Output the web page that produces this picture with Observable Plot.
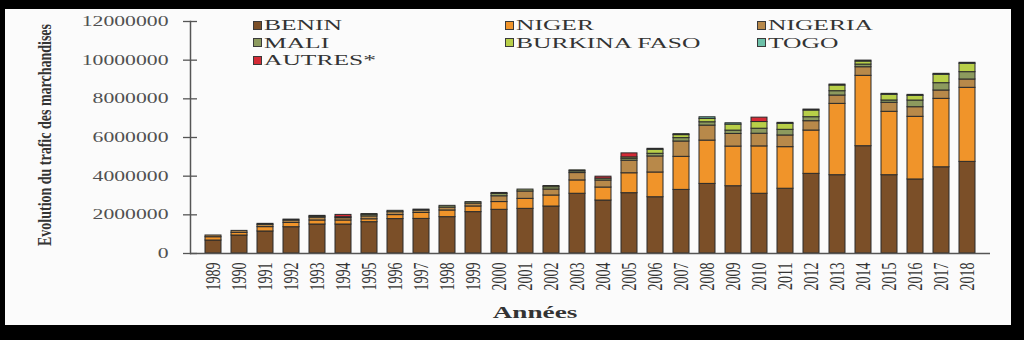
<!DOCTYPE html>
<html><head><meta charset="utf-8">
<script src="https://cdn.jsdelivr.net/npm/d3@7"></script>
<script src="https://cdn.jsdelivr.net/npm/@observablehq/plot@0.6"></script>
<style>
html,body{margin:0;padding:0;background:#000;width:1024px;height:340px;overflow:hidden}
#frame{position:absolute;left:5px;top:9px;width:1006px;height:316px;background:#fbfbfb;font-family:"Liberation Serif",serif;overflow:hidden}
#frame svg{position:absolute;left:0;top:0}
.leg{position:absolute;display:flex;align-items:center;height:16px;white-space:nowrap}
.sw{display:inline-block;width:7px;height:7px;border:1px solid #3a3a3a;margin-right:2px}
.lt{display:inline-block;font-size:15px;color:#333;transform:scaleX(1.7);transform-origin:left center;line-height:16px}
</style></head>
<body><div id="frame"></div>
<script>
const years = ["1989","1990","1991","1992","1993","1994","1995","1996","1997","1998","1999","2000","2001","2002","2003","2004","2005","2006","2007","2008","2009","2010","2011","2012","2013","2014","2015","2016","2017","2018"];
const countries = ["BENIN","NIGER","NIGERIA","MALI","BURKINA FASO","TOGO","AUTRES*"];
const colors = ["#7b4f28","#f0942a","#b8894a","#8c9a5e","#b8cf48","#6cc0a8","#d42a35"];
const benin   = [672000,930000,1140000,1360000,1500000,1500000,1620000,1780000,1790000,1880000,2140000,2260000,2310000,2430000,3090000,2740000,3120000,2910000,3290000,3600000,3480000,3090000,3350000,4120000,4050000,5550000,4050000,3830000,4460000,4740000];
const niger   = [170000,140000,224000,224000,207000,207000,150000,207000,310000,345000,293000,400000,517000,570000,690000,672000,1030000,1280000,1710000,2240000,2050000,2450000,2150000,2240000,3690000,3640000,3280000,3240000,3540000,3830000];
const nigeria = [90000,100000,120000,120000,150000,120000,150000,150000,120000,150000,150000,300000,380000,310000,380000,362000,650000,830000,793000,776000,655000,655000,605000,483000,431000,445000,465000,497000,431000,431000];
const mali    = [0,0,50000,50000,50000,50000,80000,70000,50000,90000,74000,120000,100000,120000,90000,100000,100000,138000,175000,172000,172000,260000,293000,207000,224000,138000,120000,345000,379000,379000];
const burkina = [0,0,0,0,40000,0,40000,0,0,0,0,52000,0,60000,50000,0,72000,207000,155000,175000,310000,345000,310000,345000,293000,155000,293000,243000,434000,434000];
const togo    = [0,0,0,0,0,0,0,0,0,0,0,0,0,0,0,0,0,50000,50000,83000,70000,0,50000,50000,50000,50000,50000,50000,50000,50000];
const autres  = [0,0,0,0,0,120000,0,0,0,0,0,0,0,0,0,100000,207000,0,0,0,0,227000,0,0,0,0,0,0,0,0];
const yTicks = [0,2000000,4000000,6000000,8000000,10000000,12000000];

const series = [benin, niger, nigeria, mali, burkina, togo, autres];
const table = [];
years.forEach((y, i) => {
  series.forEach((s, k) => {
    if (s[i] > 0) table.push({year: y, country: countries[k], value: s[i]});
  });
});

const chart = Plot.plot({
  width: 1006, height: 316,
  marginLeft: 185, marginRight: 21, marginTop: 12, marginBottom: 72,
  style: {background: "transparent", fontFamily: "Liberation Serif, serif", overflow: "visible"},
  x: {domain: years, paddingInner: 0.38, paddingOuter: 0.255},
  y: {domain: [0, 12000000]},
  color: {domain: countries, range: colors},
  marks: [
    Plot.barY(table, {x: "year", y: "value", fill: "country", stroke: "#2b2b2b", strokeWidth: 1}),
    Plot.ruleY([0], {stroke: "#555", strokeWidth: 1.5}),
    Plot.frame({anchor: "left", stroke: "#555", strokeWidth: 1.5}),
    Plot.axisY(yTicks, {tickSize: 14, dx: 7, fill: "none", stroke: "#555", strokeWidth: 1.3, label: null}),
    Plot.axisY(yTicks, {tickSize: 0, tickPadding: 22, stroke: "none", fill: "#505050", fontSize: 14, tickFormat: d => String(d), label: null}),
    Plot.axisX({tickSize: 0, tickPadding: 9, tickRotate: -90, fontSize: 14, fill: "#333", label: null})
  ]
});

const frame = document.getElementById("frame");
frame.appendChild(chart);

const svg = d3.select(chart);
svg.selectAll('g[aria-label="y-axis tick label"] text').each(function() {
  const t = this.getAttribute("transform") || "";
  this.setAttribute("transform", t + " scale(1.55,1)");
});
svg.selectAll('g[aria-label="x-axis tick label"] text').each(function() {
  const t = this.getAttribute("transform") || "";
  this.setAttribute("transform", t + " scale(1,1.5)");
});

svg.append("text")
  .attr("transform", "translate(39.5,126) rotate(-90) scale(1,1.4)")
  .attr("text-anchor", "middle").attr("dy", "0.35em")
  .attr("font-size", 14).attr("font-weight", "bold").attr("fill", "#333")
  .text("Evolution du trafic des marchandises");

svg.append("text")
  .attr("transform", "translate(530,309) scale(1.7,1)")
  .attr("text-anchor", "middle")
  .attr("font-size", 16).attr("font-weight", "bold").attr("fill", "#333")
  .text("Années");

const colX = [248, 500, 752];
const rowY = [16, 33.5, 51];
countries.forEach((c, i) => {
  const d = document.createElement("div");
  d.className = "leg";
  d.style.left = colX[i % 3] + "px";
  d.style.top = (rowY[Math.floor(i / 3)] - 8) + "px";
  const sw = document.createElement("span");
  sw.className = "sw";
  sw.style.background = colors[i];
  const tx = document.createElement("span");
  tx.className = "lt";
  tx.textContent = c;
  d.appendChild(sw); d.appendChild(tx);
  frame.appendChild(d);
});
</script>
</body></html>
